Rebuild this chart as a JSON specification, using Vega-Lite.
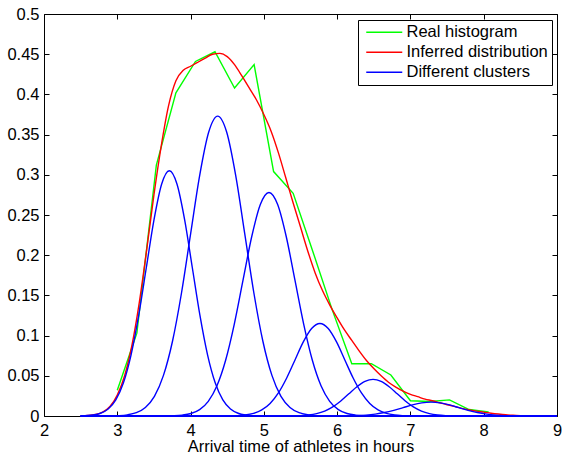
{
  "$schema": "https://vega.github.io/schema/vega-lite/v6.json",
  "width": 513,
  "height": 402,
  "autosize": {"type": "none"},
  "padding": {"left": 44, "top": 14, "right": 5, "bottom": 40},
  "background": "white",
  "config": {
    "view": {"stroke": null},
    "font": "Liberation Sans",
    "axis": {
      "domainColor": "black", "tickColor": "black", "labelColor": "black",
      "labelFont": "Liberation Sans", "labelFontSize": 16.5,
      "titleFont": "Liberation Sans", "titleFontSize": 16.5, "titleFontWeight": "normal", "titleColor": "black",
      "grid": false, "tickSize": -5, "domainWidth": 1, "tickWidth": 1,
      "labelFlush": false, "labelOverlap": false
    }
  },
  "datasets": {
    "hist": [
      {"x": 3.0, "y": 0.032}, {"x": 3.267, "y": 0.103}, {"x": 3.533, "y": 0.312}, {"x": 3.8, "y": 0.402},
      {"x": 4.067, "y": 0.441}, {"x": 4.333, "y": 0.453}, {"x": 4.6, "y": 0.408}, {"x": 4.867, "y": 0.437},
      {"x": 5.133, "y": 0.304}, {"x": 5.4, "y": 0.277}, {"x": 5.667, "y": 0.205}, {"x": 5.933, "y": 0.132},
      {"x": 6.2, "y": 0.065}, {"x": 6.467, "y": 0.065}, {"x": 6.733, "y": 0.051}, {"x": 7.0, "y": 0.019},
      {"x": 7.267, "y": 0.018}, {"x": 7.533, "y": 0.020}, {"x": 7.8, "y": 0.008}, {"x": 8.067, "y": 0.005}
    ],
    "fit": [
      {"x": 2.5, "y": 0.0002}, {"x": 2.6, "y": 0.0006}, {"x": 2.7, "y": 0.0018}, {"x": 2.8, "y": 0.0048},
      {"x": 2.9, "y": 0.0118}, {"x": 3.0, "y": 0.026}, {"x": 3.1, "y": 0.050}, {"x": 3.2, "y": 0.088},
      {"x": 3.3, "y": 0.141}, {"x": 3.4, "y": 0.206}, {"x": 3.5, "y": 0.275}, {"x": 3.6, "y": 0.336},
      {"x": 3.7, "y": 0.386}, {"x": 3.8, "y": 0.417}, {"x": 3.9, "y": 0.430}, {"x": 4.0, "y": 0.435},
      {"x": 4.1, "y": 0.440}, {"x": 4.2, "y": 0.445}, {"x": 4.3, "y": 0.450}, {"x": 4.4, "y": 0.451},
      {"x": 4.5, "y": 0.447}, {"x": 4.6, "y": 0.437}, {"x": 4.7, "y": 0.423}, {"x": 4.8, "y": 0.408},
      {"x": 4.9, "y": 0.393}, {"x": 5.0, "y": 0.375}, {"x": 5.1, "y": 0.354}, {"x": 5.2, "y": 0.327},
      {"x": 5.3, "y": 0.296}, {"x": 5.4, "y": 0.265}, {"x": 5.5, "y": 0.235}, {"x": 5.6, "y": 0.205},
      {"x": 5.7, "y": 0.178}, {"x": 5.8, "y": 0.156}, {"x": 5.9, "y": 0.138}, {"x": 6.0, "y": 0.122},
      {"x": 6.1, "y": 0.107}, {"x": 6.2, "y": 0.094}, {"x": 6.3, "y": 0.081}, {"x": 6.4, "y": 0.069},
      {"x": 6.5, "y": 0.059}, {"x": 6.6, "y": 0.050}, {"x": 6.7, "y": 0.042}, {"x": 6.8, "y": 0.036},
      {"x": 6.9, "y": 0.031}, {"x": 7.0, "y": 0.027}, {"x": 7.1, "y": 0.024}, {"x": 7.2, "y": 0.021},
      {"x": 7.3, "y": 0.019}, {"x": 7.4, "y": 0.0165}, {"x": 7.5, "y": 0.014}, {"x": 7.6, "y": 0.012},
      {"x": 7.7, "y": 0.0095}, {"x": 7.8, "y": 0.0075}, {"x": 7.9, "y": 0.006}, {"x": 8.0, "y": 0.0048},
      {"x": 8.1, "y": 0.0035}, {"x": 8.2, "y": 0.0024}, {"x": 8.3, "y": 0.0015}, {"x": 8.4, "y": 0.0009},
      {"x": 8.5, "y": 0.0005}, {"x": 8.6, "y": 0.0002}, {"x": 8.8, "y": 0.00005}, {"x": 9.0, "y": 0}
    ],
    "clusters": [
      {"c": 1, "x": 2.5, "y": 0}, {"c": 1, "x": 2.5623, "y": 0.00037}, {"c": 1, "x": 2.6667, "y": 0.00118},
      {"c": 1, "x": 2.771, "y": 0.00339}, {"c": 1, "x": 2.8753, "y": 0.00872}, {"c": 1, "x": 2.9797, "y": 0.0200},
      {"c": 1, "x": 3.084, "y": 0.0413}, {"c": 1, "x": 3.1883, "y": 0.0761}, {"c": 1, "x": 3.2927, "y": 0.1254},
      {"c": 1, "x": 3.397, "y": 0.1850}, {"c": 1, "x": 3.5013, "y": 0.2442}, {"c": 1, "x": 3.6057, "y": 0.2885},
      {"c": 1, "x": 3.71, "y": 0.305}, {"c": 1, "x": 3.8143, "y": 0.2885}, {"c": 1, "x": 3.9187, "y": 0.2442},
      {"c": 1, "x": 4.023, "y": 0.1850}, {"c": 1, "x": 4.1273, "y": 0.1254}, {"c": 1, "x": 4.2317, "y": 0.0761},
      {"c": 1, "x": 4.336, "y": 0.0413}, {"c": 1, "x": 4.4403, "y": 0.0200}, {"c": 1, "x": 4.5447, "y": 0.00872},
      {"c": 1, "x": 4.649, "y": 0.00339}, {"c": 1, "x": 4.7533, "y": 0.00118}, {"c": 1, "x": 4.8577, "y": 0.00037},
      {"c": 1, "x": 4.962, "y": 0.0001}, {"c": 1, "x": 9, "y": 0},

      {"c": 2, "x": 2.5, "y": 0}, {"c": 2, "x": 2.89, "y": 0.000125}, {"c": 2, "x": 3.0133, "y": 0.00045},
      {"c": 2, "x": 3.1367, "y": 0.00144}, {"c": 2, "x": 3.26, "y": 0.00414}, {"c": 2, "x": 3.3833, "y": 0.01067},
      {"c": 2, "x": 3.5067, "y": 0.0245}, {"c": 2, "x": 3.63, "y": 0.0505}, {"c": 2, "x": 3.7533, "y": 0.0930},
      {"c": 2, "x": 3.8767, "y": 0.1533}, {"c": 2, "x": 4.0, "y": 0.2262}, {"c": 2, "x": 4.1233, "y": 0.2987},
      {"c": 2, "x": 4.2467, "y": 0.3529}, {"c": 2, "x": 4.37, "y": 0.373}, {"c": 2, "x": 4.4933, "y": 0.3529},
      {"c": 2, "x": 4.6167, "y": 0.2987}, {"c": 2, "x": 4.74, "y": 0.2262}, {"c": 2, "x": 4.8633, "y": 0.1533},
      {"c": 2, "x": 4.9867, "y": 0.0930}, {"c": 2, "x": 5.11, "y": 0.0505}, {"c": 2, "x": 5.2333, "y": 0.0245},
      {"c": 2, "x": 5.3567, "y": 0.01067}, {"c": 2, "x": 5.48, "y": 0.00414}, {"c": 2, "x": 5.6033, "y": 0.00144},
      {"c": 2, "x": 5.7267, "y": 0.00045}, {"c": 2, "x": 5.85, "y": 0.000125}, {"c": 2, "x": 9, "y": 0},

      {"c": 3, "x": 2.5, "y": 0}, {"c": 3, "x": 3.65, "y": 0.00009}, {"c": 3, "x": 3.7683, "y": 0.00033},
      {"c": 3, "x": 3.8867, "y": 0.00108}, {"c": 3, "x": 4.005, "y": 0.00309}, {"c": 3, "x": 4.1233, "y": 0.00795},
      {"c": 3, "x": 4.2417, "y": 0.0183}, {"c": 3, "x": 4.36, "y": 0.0376}, {"c": 3, "x": 4.4783, "y": 0.0693},
      {"c": 3, "x": 4.5967, "y": 0.1143}, {"c": 3, "x": 4.715, "y": 0.1686}, {"c": 3, "x": 4.8333, "y": 0.2226},
      {"c": 3, "x": 4.9517, "y": 0.2630}, {"c": 3, "x": 5.07, "y": 0.278}, {"c": 3, "x": 5.1883, "y": 0.2630},
      {"c": 3, "x": 5.3067, "y": 0.2226}, {"c": 3, "x": 5.425, "y": 0.1686}, {"c": 3, "x": 5.5433, "y": 0.1143},
      {"c": 3, "x": 5.6617, "y": 0.0693}, {"c": 3, "x": 5.78, "y": 0.0376}, {"c": 3, "x": 5.8983, "y": 0.0183},
      {"c": 3, "x": 6.0167, "y": 0.00795}, {"c": 3, "x": 6.135, "y": 0.00309}, {"c": 3, "x": 6.2533, "y": 0.00108},
      {"c": 3, "x": 6.3717, "y": 0.00033}, {"c": 3, "x": 6.49, "y": 0.00009}, {"c": 3, "x": 9, "y": 0},

      {"c": 4, "x": 2.5, "y": 0}, {"c": 4, "x": 4.405, "y": 0.00004}, {"c": 4, "x": 4.5183, "y": 0.00014},
      {"c": 4, "x": 4.6317, "y": 0.00045}, {"c": 4, "x": 4.745, "y": 0.00128}, {"c": 4, "x": 4.8583, "y": 0.00329},
      {"c": 4, "x": 4.9717, "y": 0.00756}, {"c": 4, "x": 5.085, "y": 0.01556}, {"c": 4, "x": 5.1983, "y": 0.0287},
      {"c": 4, "x": 5.3117, "y": 0.0473}, {"c": 4, "x": 5.425, "y": 0.0697}, {"c": 4, "x": 5.5383, "y": 0.0921},
      {"c": 4, "x": 5.6517, "y": 0.1088}, {"c": 4, "x": 5.765, "y": 0.115}, {"c": 4, "x": 5.8783, "y": 0.1088},
      {"c": 4, "x": 5.9917, "y": 0.0921}, {"c": 4, "x": 6.105, "y": 0.0697}, {"c": 4, "x": 6.2183, "y": 0.0473},
      {"c": 4, "x": 6.3317, "y": 0.0287}, {"c": 4, "x": 6.445, "y": 0.01556}, {"c": 4, "x": 6.5583, "y": 0.00756},
      {"c": 4, "x": 6.6717, "y": 0.00329}, {"c": 4, "x": 6.785, "y": 0.00128}, {"c": 4, "x": 6.8983, "y": 0.00045},
      {"c": 4, "x": 7.0117, "y": 0.00014}, {"c": 4, "x": 7.125, "y": 0.00004}, {"c": 4, "x": 9, "y": 0},

      {"c": 5, "x": 2.5, "y": 0}, {"c": 5, "x": 5.17, "y": 0.000015}, {"c": 5, "x": 5.28, "y": 0.000055},
      {"c": 5, "x": 5.39, "y": 0.000176}, {"c": 5, "x": 5.5, "y": 0.000505}, {"c": 5, "x": 5.61, "y": 0.0013},
      {"c": 5, "x": 5.72, "y": 0.00299}, {"c": 5, "x": 5.83, "y": 0.00616}, {"c": 5, "x": 5.94, "y": 0.01135},
      {"c": 5, "x": 6.05, "y": 0.0187}, {"c": 5, "x": 6.16, "y": 0.0276}, {"c": 5, "x": 6.27, "y": 0.03643},
      {"c": 5, "x": 6.38, "y": 0.04304}, {"c": 5, "x": 6.49, "y": 0.0455}, {"c": 5, "x": 6.6, "y": 0.04304},
      {"c": 5, "x": 6.71, "y": 0.03643}, {"c": 5, "x": 6.82, "y": 0.0276}, {"c": 5, "x": 6.93, "y": 0.0187},
      {"c": 5, "x": 7.04, "y": 0.01135}, {"c": 5, "x": 7.15, "y": 0.00616}, {"c": 5, "x": 7.26, "y": 0.00299},
      {"c": 5, "x": 7.37, "y": 0.0013}, {"c": 5, "x": 7.48, "y": 0.000505}, {"c": 5, "x": 7.59, "y": 0.000176},
      {"c": 5, "x": 7.7, "y": 0.000055}, {"c": 5, "x": 7.81, "y": 0.000015}, {"c": 5, "x": 9, "y": 0},

      {"c": 6, "x": 2.5, "y": 0}, {"c": 6, "x": 5.76, "y": 0.000006}, {"c": 6, "x": 5.8867, "y": 0.000021},
      {"c": 6, "x": 6.0133, "y": 0.000067}, {"c": 6, "x": 6.14, "y": 0.00019}, {"c": 6, "x": 6.2667, "y": 0.00049},
      {"c": 6, "x": 6.3933, "y": 0.00113}, {"c": 6, "x": 6.52, "y": 0.00233}, {"c": 6, "x": 6.6467, "y": 0.00429},
      {"c": 6, "x": 6.7733, "y": 0.00707}, {"c": 6, "x": 6.9, "y": 0.01043}, {"c": 6, "x": 7.0267, "y": 0.01377},
      {"c": 6, "x": 7.1533, "y": 0.01627}, {"c": 6, "x": 7.28, "y": 0.0172}, {"c": 6, "x": 7.4067, "y": 0.01627},
      {"c": 6, "x": 7.5333, "y": 0.01377}, {"c": 6, "x": 7.66, "y": 0.01043}, {"c": 6, "x": 7.7867, "y": 0.00707},
      {"c": 6, "x": 7.9133, "y": 0.00429}, {"c": 6, "x": 8.04, "y": 0.00233}, {"c": 6, "x": 8.1667, "y": 0.00113},
      {"c": 6, "x": 8.2933, "y": 0.00049}, {"c": 6, "x": 8.42, "y": 0.00019}, {"c": 6, "x": 8.5467, "y": 0.000067},
      {"c": 6, "x": 8.6733, "y": 0.000021}, {"c": 6, "x": 8.8, "y": 0.000006}, {"c": 6, "x": 9, "y": 0}
    ]
  },
  "layer": [
    {
      "data": {"name": "hist"},
      "mark": {"type": "line", "strokeWidth": 1.4, "interpolate": "linear"},
      "encoding": {
        "x": {"field": "x", "type": "quantitative",
          "scale": {"domain": [2, 9], "nice": false, "zero": false},
          "axis": {"orient": "bottom", "values": [2, 3, 4, 5, 6, 7, 8, 9], "format": "~g",
            "title": "Arrival time of athletes in hours", "labelPadding": 11, "titlePadding": 0}},
        "y": {"field": "y", "type": "quantitative",
          "scale": {"domain": [0, 0.5], "nice": false, "zero": false},
          "axis": {"orient": "left", "values": [0, 0.05, 0.1, 0.15, 0.2, 0.25, 0.3, 0.35, 0.4, 0.45, 0.5],
            "format": "~g", "title": null, "labelPadding": 10}},
        "color": {"datum": "Real histogram",
          "scale": {"domain": ["Real histogram", "Inferred distribution", "Different clusters"],
            "range": ["#00ff00", "#ff0000", "#0000ff"]},
          "legend": {"orient": "none", "legendX": 314, "legendY": 6, "title": null,
            "symbolType": "M-0.8,0H6.4", "symbolSize": 100, "symbolStrokeWidth": 1.4,
            "labelFont": "Liberation Sans", "labelFontSize": 16.5, "labelColor": "black",
            "labelOffset": 28, "rowPadding": 3, "padding": 4,
            "strokeColor": "black", "fillColor": "white"}}
      }
    },
    {
      "data": {"name": "fit"},
      "mark": {"type": "line", "strokeWidth": 1.4, "interpolate": "monotone"},
      "encoding": {
        "x": {"field": "x", "type": "quantitative",
          "axis": {"orient": "top", "values": [2, 3, 4, 5, 6, 7, 8, 9], "labels": false, "title": null}},
        "y": {"field": "y", "type": "quantitative",
          "axis": {"orient": "right", "values": [0, 0.05, 0.1, 0.15, 0.2, 0.25, 0.3, 0.35, 0.4, 0.45, 0.5],
            "labels": false, "title": null}},
        "color": {"datum": "Inferred distribution"}
      }
    },
    {
      "data": {"name": "clusters"},
      "mark": {"type": "line", "strokeWidth": 1.4, "interpolate": "monotone"},
      "encoding": {
        "x": {"field": "x", "type": "quantitative", "axis": null},
        "y": {"field": "y", "type": "quantitative", "axis": null},
        "detail": {"field": "c"},
        "color": {"datum": "Different clusters"}
      }
    }
  ],
  "resolve": {"axis": {"x": "independent", "y": "independent"}}
}
